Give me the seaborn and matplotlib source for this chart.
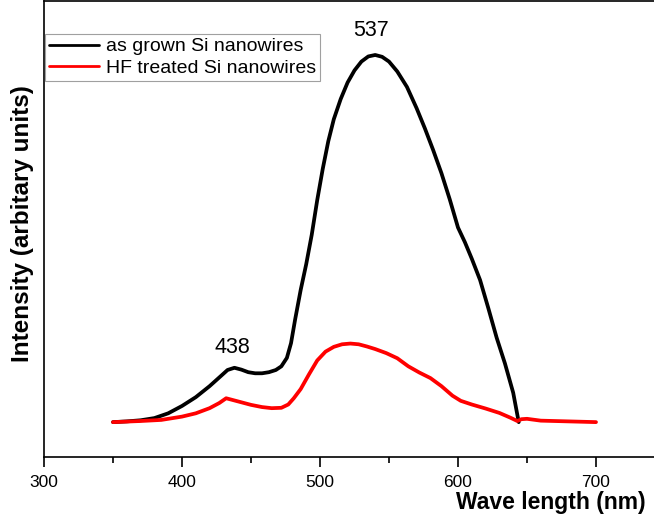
import numpy as np
import pandas as pd
import matplotlib
matplotlib.use("Agg")
import matplotlib.pyplot as plt
import seaborn as sns

# Photoluminescence spectra (arbitrary units)
wl_grown = [350, 360, 370, 380, 390, 400, 410, 420, 428, 433, 438, 443, 448, 453,
            458, 463, 468, 472, 476, 479, 482, 486, 490, 494, 498, 502, 506, 510,
            515, 520, 525, 530, 535, 540, 545, 550, 556, 563, 570, 576, 582, 588,
            594, 600, 605, 610, 616, 622, 628, 634, 640, 644]
int_grown = [0.000, 0.002, 0.005, 0.011, 0.024, 0.044, 0.068, 0.098, 0.125, 0.142,
             0.148, 0.143, 0.136, 0.133, 0.133, 0.136, 0.142, 0.152, 0.175, 0.215,
             0.280, 0.360, 0.430, 0.510, 0.605, 0.690, 0.765, 0.825, 0.880, 0.925,
             0.958, 0.982, 0.996, 1.000, 0.995, 0.982, 0.955, 0.913, 0.855, 0.800,
             0.741, 0.678, 0.607, 0.530, 0.490, 0.445, 0.387, 0.310, 0.230, 0.160,
             0.080, 0.000]

wl_hf = [350, 370, 385, 400, 410, 420, 427, 432, 437, 442, 450, 458, 465, 472, 477,
         481, 486, 492, 498, 504, 510, 516, 522, 528, 534, 540, 548, 556, 564, 572,
         580, 588, 596, 602, 610, 620, 630, 638, 643, 646, 650, 660, 680, 700]
int_hf = [0.000, 0.003, 0.006, 0.015, 0.024, 0.038, 0.052, 0.065, 0.060, 0.055,
          0.047, 0.041, 0.038, 0.039, 0.048, 0.065, 0.090, 0.130, 0.168, 0.192,
          0.205, 0.212, 0.214, 0.212, 0.206, 0.199, 0.188, 0.174, 0.152, 0.135,
          0.120, 0.098, 0.072, 0.058, 0.048, 0.037, 0.025, 0.012, 0.003, 0.008,
          0.009, 0.004, 0.002, 0.000]

labels = ["as grown Si nanowires", "HF treated Si nanowires"]
peak_labels = [(438, 0.148, "438"), (537, 1.0, "537")]

df = pd.concat([
    pd.DataFrame({"wl": wl_grown, "I": int_grown, "sample": labels[0]}),
    pd.DataFrame({"wl": wl_hf, "I": int_hf, "sample": labels[1]}),
])

sns.set_theme(style="ticks")
plt.rcParams["font.family"] = ["Liberation Sans", "DejaVu Sans"]
plt.rcParams["text.color"] = "black"
plt.rcParams["axes.labelcolor"] = "black"

fig = plt.figure(figsize=(6.54, 5.17), dpi=100)
ax = fig.add_axes([44 / 654, 60 / 517, 621 / 654, 456 / 517])

sns.lineplot(data=df, x="wl", y="I", hue="sample", palette=["#000000", "#ff0000"],
             linewidth=2.7, sort=False, estimator=None, ax=ax, legend=False)

ax.set_xlim(300, 750)
ax.set_ylim(-0.095, 1.147)

ax.set_xticks([300, 400, 500, 600, 700])
ax.set_xticks([350, 450, 550, 650], minor=True)
ax.set_yticks([])
ax.tick_params(axis="x", which="major", length=7, width=1.2, direction="out",
               labelsize=12.5, pad=6, colors="black")
ax.tick_params(axis="x", which="minor", length=4, width=1.2, direction="out",
               colors="black")
for sp in ax.spines.values():
    sp.set_linewidth(1.2)
    sp.set_color("black")

ax.set_xlabel("Wave length (nm)", fontsize=16.5, fontweight="bold",
              ha="right", va="baseline", color="black")
ax.xaxis.set_label_coords(0.968, -52 / 456)
ax.set_ylabel("Intensity (arbitary units)", fontsize=17.5, fontweight="bold",
              va="center", color="black")
ax.yaxis.set_label_coords(-0.035, 0.512)

# Peak position labels
offsets = {"438": 0.055, "537": 0.068}
for x, y, t in peak_labels:
    ax.text(x - 1.5 if t == "438" else x, y + offsets[t], t, fontsize=15.5,
            ha="center", va="center", color="black")

handles = [plt.Line2D([], [], color="#000000", lw=2.0),
           plt.Line2D([], [], color="#ff0000", lw=2.0)]
leg = ax.legend(handles, labels, loc="upper left", bbox_to_anchor=(0.0015, 0.928),
                borderaxespad=0, fontsize=14, frameon=True, fancybox=False,
                handlelength=2.6, handletextpad=0.35, labelspacing=0.2,
                borderpad=0.2, labelcolor="black")
leg.get_frame().set_edgecolor("#888888")
leg.get_frame().set_linewidth(0.8)

fig.savefig("out.png", dpi=100)
